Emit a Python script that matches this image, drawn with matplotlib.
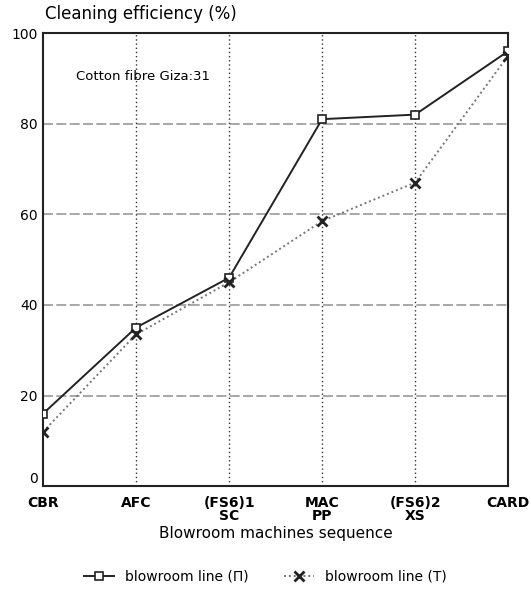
import numpy as np
import matplotlib
matplotlib.use("Agg")
import matplotlib.pyplot as plt

# data
machines = ["CBR", "AFC", "(FS6)1\nSC", "MAC\nPP", "(FS6)2\nXS", "CARD"]
line_pi = [16, 35, 46, 81, 82, 96]
line_t = [12, 33.5, 45, 58.5, 67, 95]

plt.rcParams['font.family'] = 'DejaVu Sans'

fig = plt.figure(figsize=(5.31, 6.01), dpi=100)
ax = fig.add_axes([0.081, 0.191, 0.876, 0.754])

x = np.arange(len(machines))

# grid
for yv in [20, 40, 60, 80]:
    ax.axhline(yv, color="#999999", lw=1.2, ls=(0, (6, 2)), zorder=1)
for xv in x[1:-1]:
    ax.axvline(xv, color="#333333", lw=1.0, ls=(0, (1, 2)), zorder=1)

ax.plot(x, line_pi, color="#222222", lw=1.4, marker="s", ms=6,
        mfc="white", mec="#222222", mew=1.2, label="blowroom line (Π)", zorder=3)
ax.plot(x, line_t, color="#777777", lw=1.4, ls=(0, (1, 1.5)), marker="x", ms=7,
        mec="#222222", mew=2, label="blowroom line (T)", zorder=3)

ax.set_xlim(0, 5)
ax.set_ylim(0, 100)
ax.set_xticks(x)
ax.set_xticklabels(machines, fontsize=10, fontweight="bold", linespacing=0.9)
ax.set_yticks([0, 20, 40, 60, 80, 100])
ax.set_yticklabels(["0", "20", "40", "60", "80", "100"], fontsize=10)
ax.tick_params(length=0, pad=4)
ax.tick_params(axis="x", pad=7)
ax.get_yticklabels()[0].set_va("bottom")
for s in ax.spines.values():
    s.set_linewidth(1.5)
    s.set_color("#222222")

ax.set_xlabel("Blowroom machines sequence", fontsize=11, labelpad=2)
fig.text(0.085, 0.962, "Cleaning efficiency (%)", fontsize=12, ha="left", va="bottom")
ax.text(0.07, 0.905, "Cotton fibre Giza:31", transform=ax.transAxes,
        fontsize=9.5, ha="left", va="center")

fig.legend(loc="center", bbox_to_anchor=(0.5, 0.04), ncol=2, frameon=False,
           fontsize=10, handlelength=2.2, columnspacing=2.5)

fig.savefig("out.png", dpi=100)
